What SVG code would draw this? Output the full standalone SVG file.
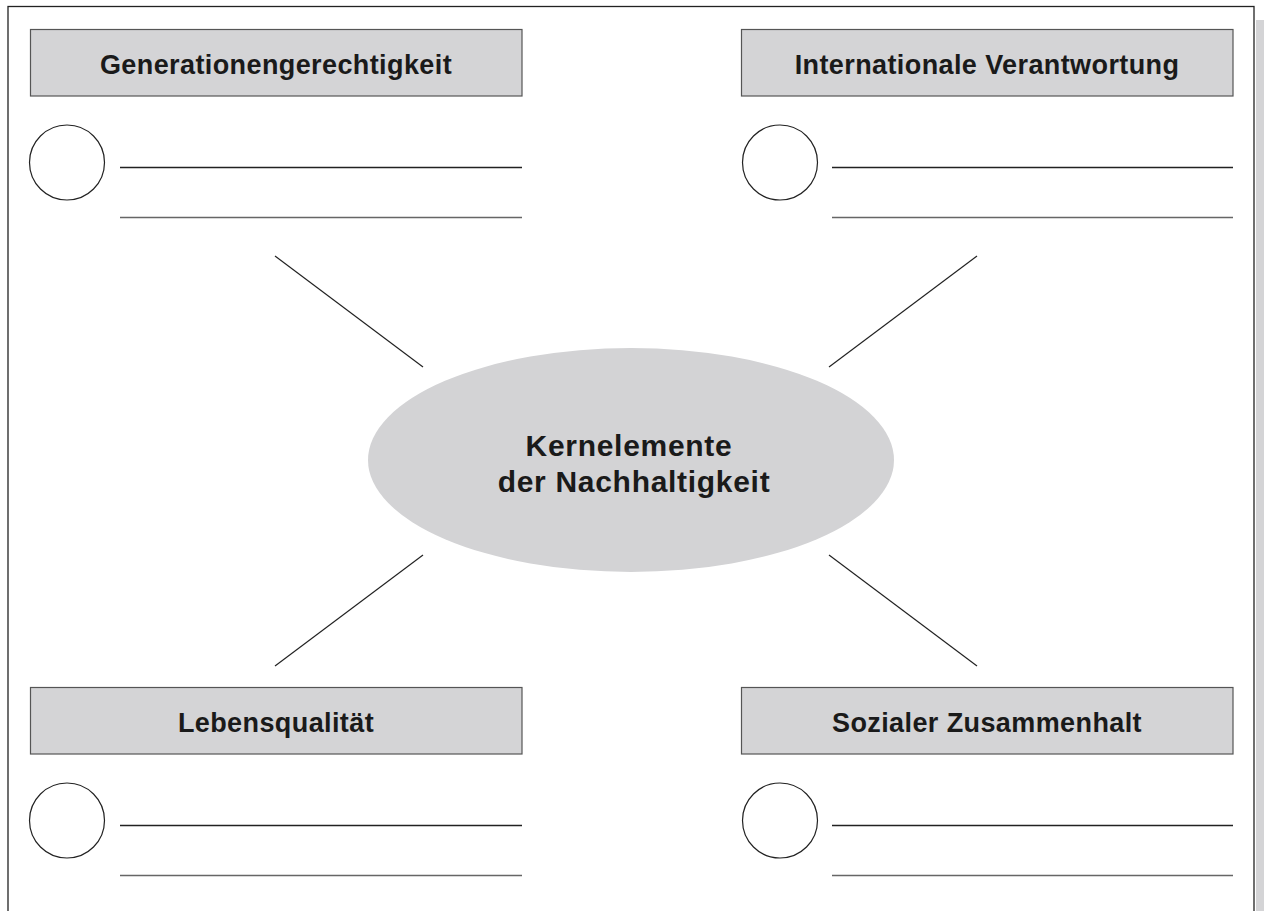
<svg xmlns="http://www.w3.org/2000/svg" width="1264" height="911" viewBox="0 0 1264 911">
<style>
.box{fill:#d4d4d6;stroke:#555;stroke-width:1.2}
.t{font-family:"Liberation Sans",Arial,sans-serif;font-weight:bold;font-size:27px;letter-spacing:0.4px;fill:#1a1a1a;text-anchor:middle}
.tc{font-size:30px;letter-spacing:0.7px}
.c{fill:#fff;stroke:#222;stroke-width:1.2}
.l1{stroke:#222;stroke-width:1.3}
.l2{stroke:#666;stroke-width:1.6}
.conn{stroke:#222;stroke-width:1.2}
</style>
<rect width="1264" height="911" fill="#fff"/>
<rect x="1256" y="20" width="8" height="900" fill="#d4d4d6"/>
<rect x="8" y="6.5" width="1246" height="920" fill="#fff" stroke="#222" stroke-width="1.3"/>
<g id="connectors">
<line class="conn" x1="275" y1="256" x2="423" y2="367"/>
<line class="conn" x1="977" y1="256" x2="829" y2="367"/>
<line class="conn" x1="423" y1="555" x2="275" y2="666"/>
<line class="conn" x1="829" y1="555" x2="977" y2="666"/>
</g>
<g id="center">
<ellipse cx="631" cy="460" rx="263" ry="112" fill="#d3d3d5"/>
<text class="t tc" x="629" y="456">Kernelemente</text>
<text class="t tc" x="634" y="492">der Nachhaltigkeit</text>
</g>
<g id="generationengerechtigkeit">
<rect class="box" x="30.5" y="29.5" width="491.5" height="66.5"/>
<text class="t" x="276" y="74">Generationengerechtigkeit</text>
<circle class="c" cx="67" cy="162.5" r="37.5"/>
<line class="l1" x1="120" y1="167.5" x2="522" y2="167.5"/>
<line class="l2" x1="120" y1="217.5" x2="522" y2="217.5"/>
</g>
<g id="internationale-verantwortung">
<rect class="box" x="741.5" y="29.5" width="491.5" height="66.5"/>
<text class="t" x="987" y="74">Internationale Verantwortung</text>
<circle class="c" cx="780" cy="162.5" r="37.5"/>
<line class="l1" x1="832" y1="167.5" x2="1233" y2="167.5"/>
<line class="l2" x1="832" y1="217.5" x2="1233" y2="217.5"/>
</g>
<g id="lebensqualitaet">
<rect class="box" x="30.5" y="687.5" width="491.5" height="66.5"/>
<text class="t" x="276" y="732">Lebensqualität</text>
<circle class="c" cx="67" cy="820.5" r="37.5"/>
<line class="l1" x1="120" y1="825.5" x2="522" y2="825.5"/>
<line class="l2" x1="120" y1="875.5" x2="522" y2="875.5"/>
</g>
<g id="sozialer-zusammenhalt">
<rect class="box" x="741.5" y="687.5" width="491.5" height="66.5"/>
<text class="t" x="987" y="732">Sozialer Zusammenhalt</text>
<circle class="c" cx="780" cy="820.5" r="37.5"/>
<line class="l1" x1="832" y1="825.5" x2="1233" y2="825.5"/>
<line class="l2" x1="832" y1="875.5" x2="1233" y2="875.5"/>
</g>
</svg>
